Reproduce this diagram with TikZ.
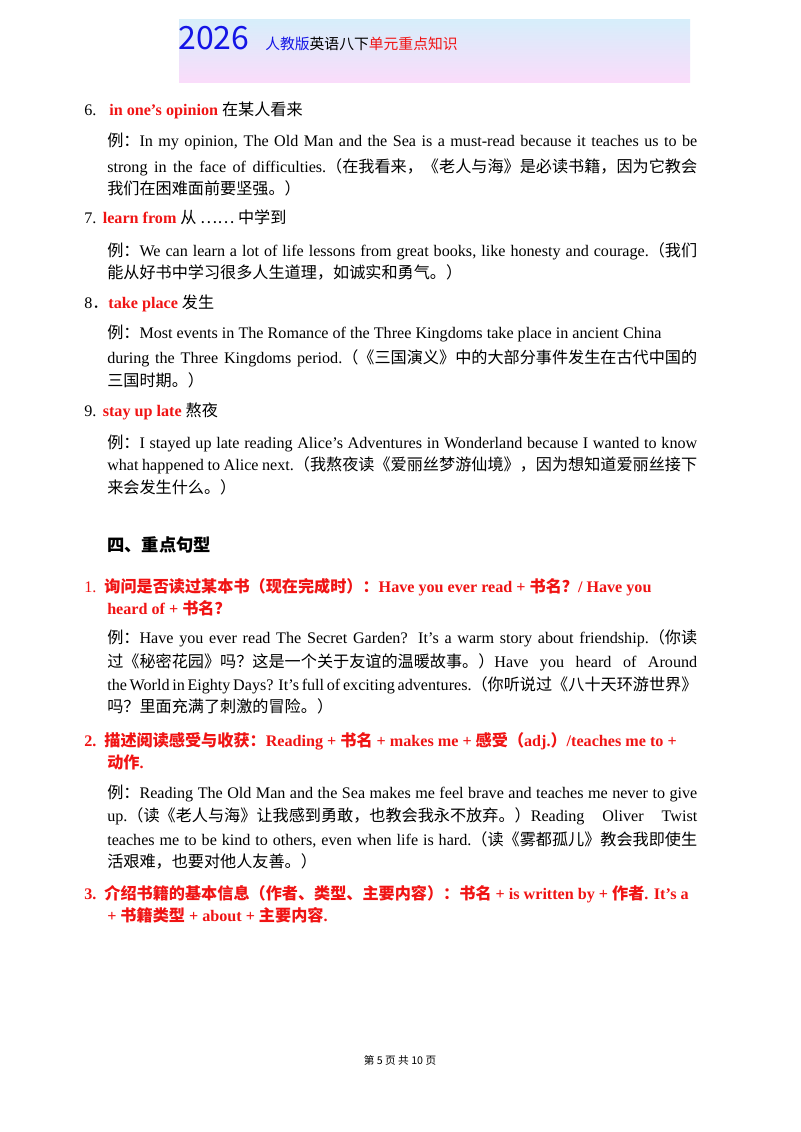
\documentclass[tikz,border=0pt]{standalone}
\usepackage{fontspec}
\setmainfont{Liberation Serif}
\newfontfamily\cjk{Noto Sans CJK SC}
\definecolor{rd}{RGB}{240,20,20}
\definecolor{bl}{RGB}{20,20,230}
\newcommand{\zh}[1]{{\cjk #1}}
\newcommand{\rb}[1]{{\color{rd}\bfseries #1}}
\newlength{\jw}\setlength{\jw}{442.5pt}
\newcommand{\jl}[1]{\makebox[\jw][s]{#1}}
\newcommand{\tl}[4]{\node[txt] (#1) at (#2,#3) {#4};}
\tikzset{txt/.style={anchor=base west,inner sep=0pt,font=\fontsize{12.1}{14}\selectfont}}
\begin{document}
\begin{tikzpicture}[x=0.75pt,y=-0.75pt]
\useasboundingbox (0,0) rectangle (800,1132);
\fill[white] (0,0) rectangle (800,1132);
\shade[top color={rgb,255:red,214;green,238;blue,250},middle color={rgb,255:red,254;green,232;blue,205},bottom color={rgb,255:red,250;green,220;blue,250}] (179,19) rectangle (690,82);
\node[anchor=base west,inner sep=0,font=\cjk\fontsize{24}{28}\selectfont,text=bl] (yr) at (178,49) {2026};
\node[anchor=base west,inner sep=0,font=\cjk\fontsize{11.1}{14}\selectfont] (ttl) at (265,49) {\textcolor{bl}{人教版}英语八下\textcolor{rd}{单元重点知识}};
%
\tl{a1}{84}{115}{6.\hspace{0.8em}\rb{in one’s opinion} \zh{在某人看来}}
\tl{a2}{107}{146}{\jl{\zh{例：}In my opinion, The Old Man and the Sea is a must-read because it teaches us to be}}
\tl{a3}{107}{172}{\jl{strong in the face of difficulties.\zh{（在我看来，《老人与海》是必读书籍，因为它教会}}}
\tl{a4}{107}{194}{\zh{我们在困难面前要坚强。）}}
\tl{b1}{84}{223}{7.\hspace{0.4em}\rb{learn from} \zh{从 …… 中学到}}
\tl{b2}{107}{256}{\jl{\zh{例：}We can learn a lot of life lessons from great books, like honesty and courage.\zh{（我们}}}
\tl{b3}{107}{278}{\zh{能从好书中学习很多人生道理，如诚实和勇气。）}}
\tl{c1}{84}{308}{8\zh{．}\rb{take place} \zh{发生}}
\tl{c2}{107}{338}{\zh{例：}Most events in The Romance of the Three Kingdoms take place in ancient China}
\tl{c3}{107}{363}{\jl{during the Three Kingdoms period.\zh{（《三国演义》中的大部分事件发生在古代中国的}}}
\tl{c4}{107}{386}{\zh{三国时期。）}}
\tl{d1}{84}{416}{9.\hspace{0.4em}\rb{stay up late} \zh{熬夜}}
\tl{d2}{107}{448}{\jl{\zh{例：}I stayed up late reading Alice’s Adventures in Wonderland because I wanted to know}}
\tl{d3}{107}{470}{\jl{what happened to Alice next.\zh{（我熬夜读《爱丽丝梦游仙境》，因为想知道爱丽丝接下}}}
\tl{d4}{107}{493}{\zh{来会发生什么。）}}
\node[anchor=base west,inner sep=0,font=\cjk\bfseries\fontsize{13}{15}\selectfont] (sec) at (107,551) {四、重点句型};
%
\tl{e1}{84}{592}{\textcolor{rd}{1.}\hspace{0.5em}\rb{\zh{询问是否读过某本书（现在完成时）：}Have you ever read + \zh{书名？}/ Have you}}
\tl{e2}{107}{614}{\rb{heard of + \zh{书名？}}}
\tl{e3}{107}{643}{\jl{\zh{例：}Have you ever read The Secret Garden? It’s a warm story about friendship.\zh{（你读}}}
\tl{e4}{107}{667}{\jl{\zh{过《秘密花园》吗？这是一个关于友谊的温暖故事。）}Have you heard of Around}}
\tl{e5}{107}{690}{\jl{the World in Eighty Days? It’s full of exciting adventures.\zh{（你听说过《八十天环游世界》}}}
\tl{e6}{107}{712}{\zh{吗？里面充满了刺激的冒险。）}}
\tl{f1}{84}{746}{\rb{2.\hspace{0.5em}\zh{描述阅读感受与收获：}Reading + \zh{书名} + makes me + \zh{感受（}adj.\zh{）}/teaches me to +}}
\tl{f2}{107}{768}{\rb{\zh{动作}.}}
\tl{f3}{107}{798}{\jl{\zh{例：}Reading The Old Man and the Sea makes me feel brave and teaches me never to give}}
\tl{f4}{107}{821}{\jl{up.\zh{（读《老人与海》让我感到勇敢，也教会我永不放弃。）}Reading Oliver Twist}}
\tl{f5}{107}{845}{\jl{teaches me to be kind to others, even when life is hard.\zh{（读《雾都孤儿》教会我即使生}}}
\tl{f6}{107}{867}{\zh{活艰难，也要对他人友善。）}}
\tl{g1}{84}{899}{\rb{3.\hspace{0.5em}\zh{介绍书籍的基本信息（作者、类型、主要内容）：书名} + is written by + \zh{作者}. It’s a}}
\tl{g2}{107}{921}{\rb{+ \zh{书籍类型} + about + \zh{主要内容}.}}
%
\node[anchor=base,inner sep=0,font=\cjk\fontsize{8}{10}\selectfont] (ft) at (400,1064) {第 5 页 共 10 页};
\end{tikzpicture}
\end{document}
